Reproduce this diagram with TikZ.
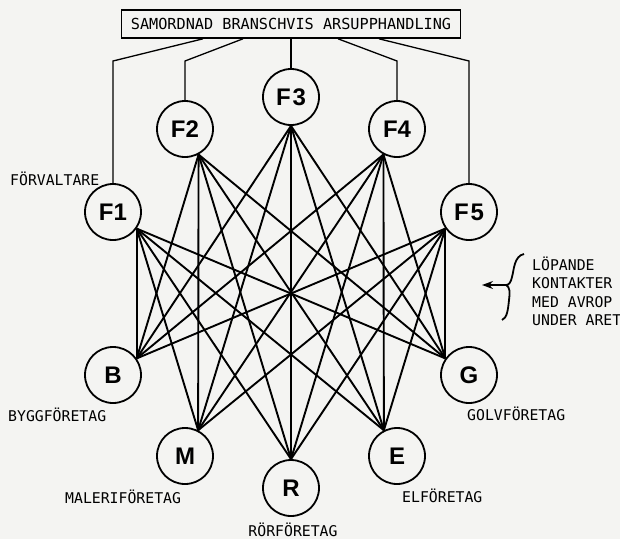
\documentclass[tikz,border=0pt]{standalone}
\usepackage{fontspec}
\setmainfont{Liberation Sans}
\newfontfamily\monofont{DejaVu Sans Mono}
\usetikzlibrary{arrows.meta,calc}
\definecolor{bgc}{RGB}{244,244,242}
\begin{document}
\begin{tikzpicture}[x=1pt,y=-1pt,
  fnode/.style={circle,draw,line width=1.8pt,minimum size=56pt,inner sep=0pt,font=\fontsize{24}{24}\selectfont\bfseries},
  lab/.style={font=\monofont\fontsize{14.8}{18}\selectfont,inner sep=0pt},
  link/.style={line width=1.9pt},
  feed/.style={line width=1.3pt}]
\fill[bgc] (0,0) rectangle (620,539);
\useasboundingbox (0,0) rectangle (620,539);

\node[draw,line width=1.6pt,minimum width=339pt,minimum height=28pt,inner sep=0pt,
  font=\monofont\fontsize{15.2}{18}\selectfont] (box) at (291,24) {SAMORDNAD BRANSCHVIS ARSUPPHANDLING};

\node[fnode] (F1) at (113,212) {F1};
\node[fnode] (F2) at (185,129) {F2};
\node[fnode] (F3) at (291,97) {F\kern2pt 3};
\node[fnode] (F4) at (397,129) {F4};
\node[fnode] (F5) at (469,212) {F\kern2pt 5};

\node[fnode] (B) at (113,375) {B};
\node[fnode] (M) at (185,456) {M};
\node[fnode] (R) at (291,488) {R};
\node[fnode] (E) at (397,456) {E};
\node[fnode] (G) at (469,375) {G};

% feeder lines from the box
\draw[feed] (F1.north) -- (113,61) -- ($(box.south)+(-88,0)$);
\draw[feed] (F2.north) -- (185,61) -- ($(box.south)+(-48,0)$);
\draw[feed] (F3.north) -- (F3.north |- box.south);
\draw[feed] (F4.north) -- (397,61) -- ($(box.south)+(47,0)$);
\draw[feed] (F5.north) -- (469,61) -- ($(box.south)+(88,0)$);

% ports
\coordinate (F1p) at (F1.-35);
\coordinate (F2p) at (F2.-62);
\coordinate (F3p) at (F3.-90);
\coordinate (F4p) at (F4.-118);
\coordinate (F5p) at (F5.-145);
\coordinate (Bp) at (B.35);
\coordinate (Mp) at (M.63);
\coordinate (Rp) at (R.90);
\coordinate (Ep) at (E.117);
\coordinate (Gp) at (G.145);

\foreach \a in {F1,F2,F3,F4,F5}
  \foreach \b in {B,M,R,E,G}
    \draw[link] (\a p) -- (\b p);

% labels
\node[lab,anchor=base west] (lF) at (10,185) {FÖRVALTARE};
\node[lab,anchor=base west] (lB) at (8,421) {BYGGFÖRETAG};
\node[lab,anchor=base west] (lM) at (65,503) {MALERIFÖRETAG};
\node[lab,anchor=base] (lR) at (293,536) {RÖRFÖRETAG};
\node[lab,anchor=base west] (lE) at (402,502) {ELFÖRETAG};
\node[lab,anchor=base west] (lG) at (467,420) {GOLVFÖRETAG};

\node[lab,anchor=base west] (k1) at (532,270.5) {LÖPANDE};
\node[lab,anchor=base west] (k2) at (532,288.5) {KONTAKTER};
\node[lab,anchor=base west] (k3) at (532,307) {MED AVROP};
\node[lab,anchor=base west] (k4) at (532,325) {UNDER ARET};

% brace and arrow
\coordinate (brtip) at (506,285);
\coordinate (arrend) at (482,285);
\draw[line width=1.8pt] (524,254) .. controls (514,256) and (514,270) .. (512,277)
  .. controls (511,282) and (509,285) .. (brtip)
  .. controls (510,287) and (510,292) .. (509,300)
  .. controls (508,310) and (507,318) .. (502,320);
\draw[-{Stealth[length=11pt,width=8pt]},line width=1.4pt] (brtip) -- (arrend);
\end{tikzpicture}
\end{document}
